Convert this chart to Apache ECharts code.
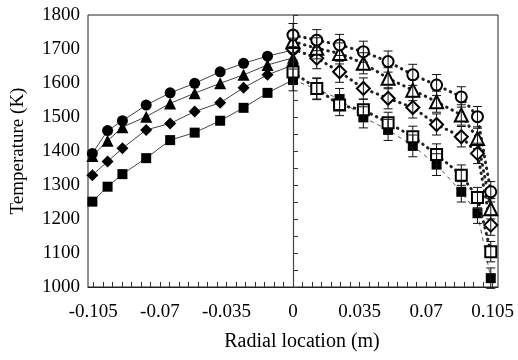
<!DOCTYPE html>
<html><head><meta charset="utf-8">
<script src="https://cdn.jsdelivr.net/npm/echarts@6/dist/echarts.min.js"></script>
<style>html,body{margin:0;padding:0;background:#fff}#c{width:518px;height:360px}</style>
</head><body><div id="c"></div>
<script>
// ---- data ----
var xLeft = [-0.1055, -0.0975, -0.0897, -0.0772, -0.0646, -0.0517, -0.0383, -0.026, -0.0134, 0];
var circleL   = [1393, 1460, 1489, 1535, 1571, 1599, 1633, 1658, 1679, 1697];
var triangleL = [1385, 1430, 1470, 1501, 1540, 1570, 1599, 1624, 1653, 1674];
var diamondL  = [1329, 1369, 1408, 1462, 1481, 1516, 1542, 1586, 1624, 1653];
var squareL   = [1251, 1295, 1332, 1379, 1432, 1454, 1489, 1527, 1571, 1609];

var xRight = [0, 0.0125, 0.0245, 0.037, 0.05, 0.063, 0.0755, 0.0885, 0.097, 0.104];
var circleR    = [1741, 1726, 1712, 1692, 1663, 1624, 1594, 1559, 1501, 1280];
var triangleR  = [1722, 1702, 1687, 1658, 1614, 1579, 1545, 1506, 1437, 1230];
var diamondR   = [1700, 1673, 1633, 1584, 1555, 1528, 1478, 1442, 1393, 1182];
var openSqR    = [1632, 1584, 1535, 1521, 1483, 1442, 1390, 1329, 1263, 1104];
var filledSqR  = [1609, 1582, 1553, 1499, 1462, 1415, 1360, 1280, 1217, 1026];

var errCircleR   = [34, 31, 31, 31, 31, 31, 31, 30, 30, 30];
var errTriangleR = [32, 31, 31, 31, 31, 31, 31, 30, 30, 30];
var errDiamondR  = [32, 31, 31, 31, 31, 31, 31, 30, 30, 30];
var errOpenSqR   = [32, 31, 31, 31, 31, 31, 31, 30, 30, 30];
var errFilledSqR = [32, 31, 31, 31, 31, 32, 32, 30, 30, 30];

var xLabelValues = [-0.105, -0.07, -0.035, 0, 0.035, 0.07, 0.105];
var xTickValues = [-0.105,-0.1,-0.095,-0.09,-0.085,-0.08,-0.075,-0.07,-0.065,-0.06,-0.055,-0.05,-0.045,-0.04,-0.035,-0.03,-0.025,-0.02,-0.015,-0.01,-0.005,0,0.005,0.01,0.015,0.02,0.025,0.03,0.035,0.04,0.045,0.05,0.055,0.06,0.065,0.07,0.075,0.08,0.085,0.09,0.095,0.1,0.105];

// ---- helpers ----
function pairs(xs, ys){ return xs.map(function(x,i){ return [x, ys[i]]; }); }
function errData(xs, ys, es){ return xs.map(function(x,i){ return [x, ys[i]-es[i], ys[i]+es[i]]; }); }
function errSeries(xs, ys, es){
  return {
    type:'custom', z:6, silent:true,
    data: errData(xs, ys, es),
    encode:{x:0, y:[1,2]},
    renderItem:function(params, api){
      var x = api.value(0), lo = api.value(1), hi = api.value(2);
      var a = api.coord([x, lo]), b = api.coord([x, hi]);
      var w = 4.5;
      var st = {stroke:'#111', lineWidth:1};
      return {type:'group', children:[
        {type:'line', shape:{x1:a[0], y1:a[1], x2:b[0], y2:b[1]}, style:st},
        {type:'line', shape:{x1:a[0]-w, y1:a[1], x2:a[0]+w, y2:a[1]}, style:st},
        {type:'line', shape:{x1:b[0]-w, y1:b[1], x2:b[0]+w, y2:b[1]}, style:st}
      ]};
    }
  };
}
function leftSeries(ys, sym, size, z){
  return {type:'line', data:pairs(xLeft, ys), symbol:sym, symbolSize:size, z:z,
    lineStyle:{color:'#444', width:1}, itemStyle:{color:'#000'}, animation:false};
}
var dotStyle = {color:'#222', width:3, type:[0.5, 5.5], cap:'round'};
function openSeries(ys, sym, size, z){
  return {type:'line', data:pairs(xRight, ys), symbol:sym, symbolSize:size, z:z,
    lineStyle:dotStyle, itemStyle:{color:'#fff', borderColor:'#000', borderWidth:2}, animation:false};
}

var font = 'Liberation Serif';
var chart = echarts.init(document.getElementById('c'), null, {renderer:'canvas'});
chart.setOption({
  animation:false,
  grid:{left:88, right:20, top:15, bottom:73, show:true, borderColor:'#222', borderWidth:1},
  xAxis:{
    type:'value', min:-0.1078, max:0.1078,
    name:'Radial location (m)', nameLocation:'middle', nameGap:45,
    nameTextStyle:{fontFamily:font, fontSize:20, color:'#000', padding:[0,0,0,18]},
    axisLine:{show:true, onZero:false, lineStyle:{color:'#222', width:1}},
    axisTick:{show:true, inside:true, length:5, customValues:xTickValues, lineStyle:{color:'#333'}},
    axisLabel:{customValues:xLabelValues, margin:16, fontFamily:font, fontSize:19, color:'#000',
      formatter:function(v){ return String(Math.round(v*1000)/1000); }},
    splitLine:{show:false}
  },
  yAxis:{
    type:'value', min:1000, max:1800, interval:50,
    name:'Temperature (K)', nameLocation:'middle', nameGap:60, nameRotate:90,
    nameTextStyle:{fontFamily:font, fontSize:19, color:'#000'},
    axisLine:{show:true, lineStyle:{color:'#222', width:1}},
    axisTick:{show:true, inside:true, length:5, lineStyle:{color:'#333'}},
    axisLabel:{margin:8, fontFamily:font, fontSize:19, color:'#000',
      formatter:function(v){ return v % 100 === 0 ? String(v) : ''; }},
    splitLine:{show:false}
  },
  series:[
    leftSeries(squareL, 'rect', 10, 2),
    leftSeries(diamondL, 'diamond', 12, 2),
    leftSeries(triangleL, 'triangle', 12, 2),
    leftSeries(circleL, 'circle', 11, 2),
    {type:'line', data:pairs(xRight, filledSqR), symbol:'rect', symbolSize:10, z:3,
      lineStyle:{color:'#555', width:1, type:[4,4]}, itemStyle:{color:'#000'},
      markLine:{silent:true, symbol:'none', label:{show:false},
        lineStyle:{color:'#444', width:1.2, type:'solid'}, data:[{xAxis:0}]}},
    openSeries(diamondR, 'diamond', 13, 4),
    openSeries(triangleR, 'triangle', 13, 4),
    openSeries(circleR, 'circle', 11, 4),
    openSeries(openSqR, 'rect', 11, 5),
    errSeries(xRight, circleR, errCircleR),
    errSeries(xRight, triangleR, errTriangleR),
    errSeries(xRight, diamondR, errDiamondR),
    errSeries(xRight, openSqR, errOpenSqR),
    errSeries(xRight, filledSqR, errFilledSqR)
  ]
});
</script></body></html>
